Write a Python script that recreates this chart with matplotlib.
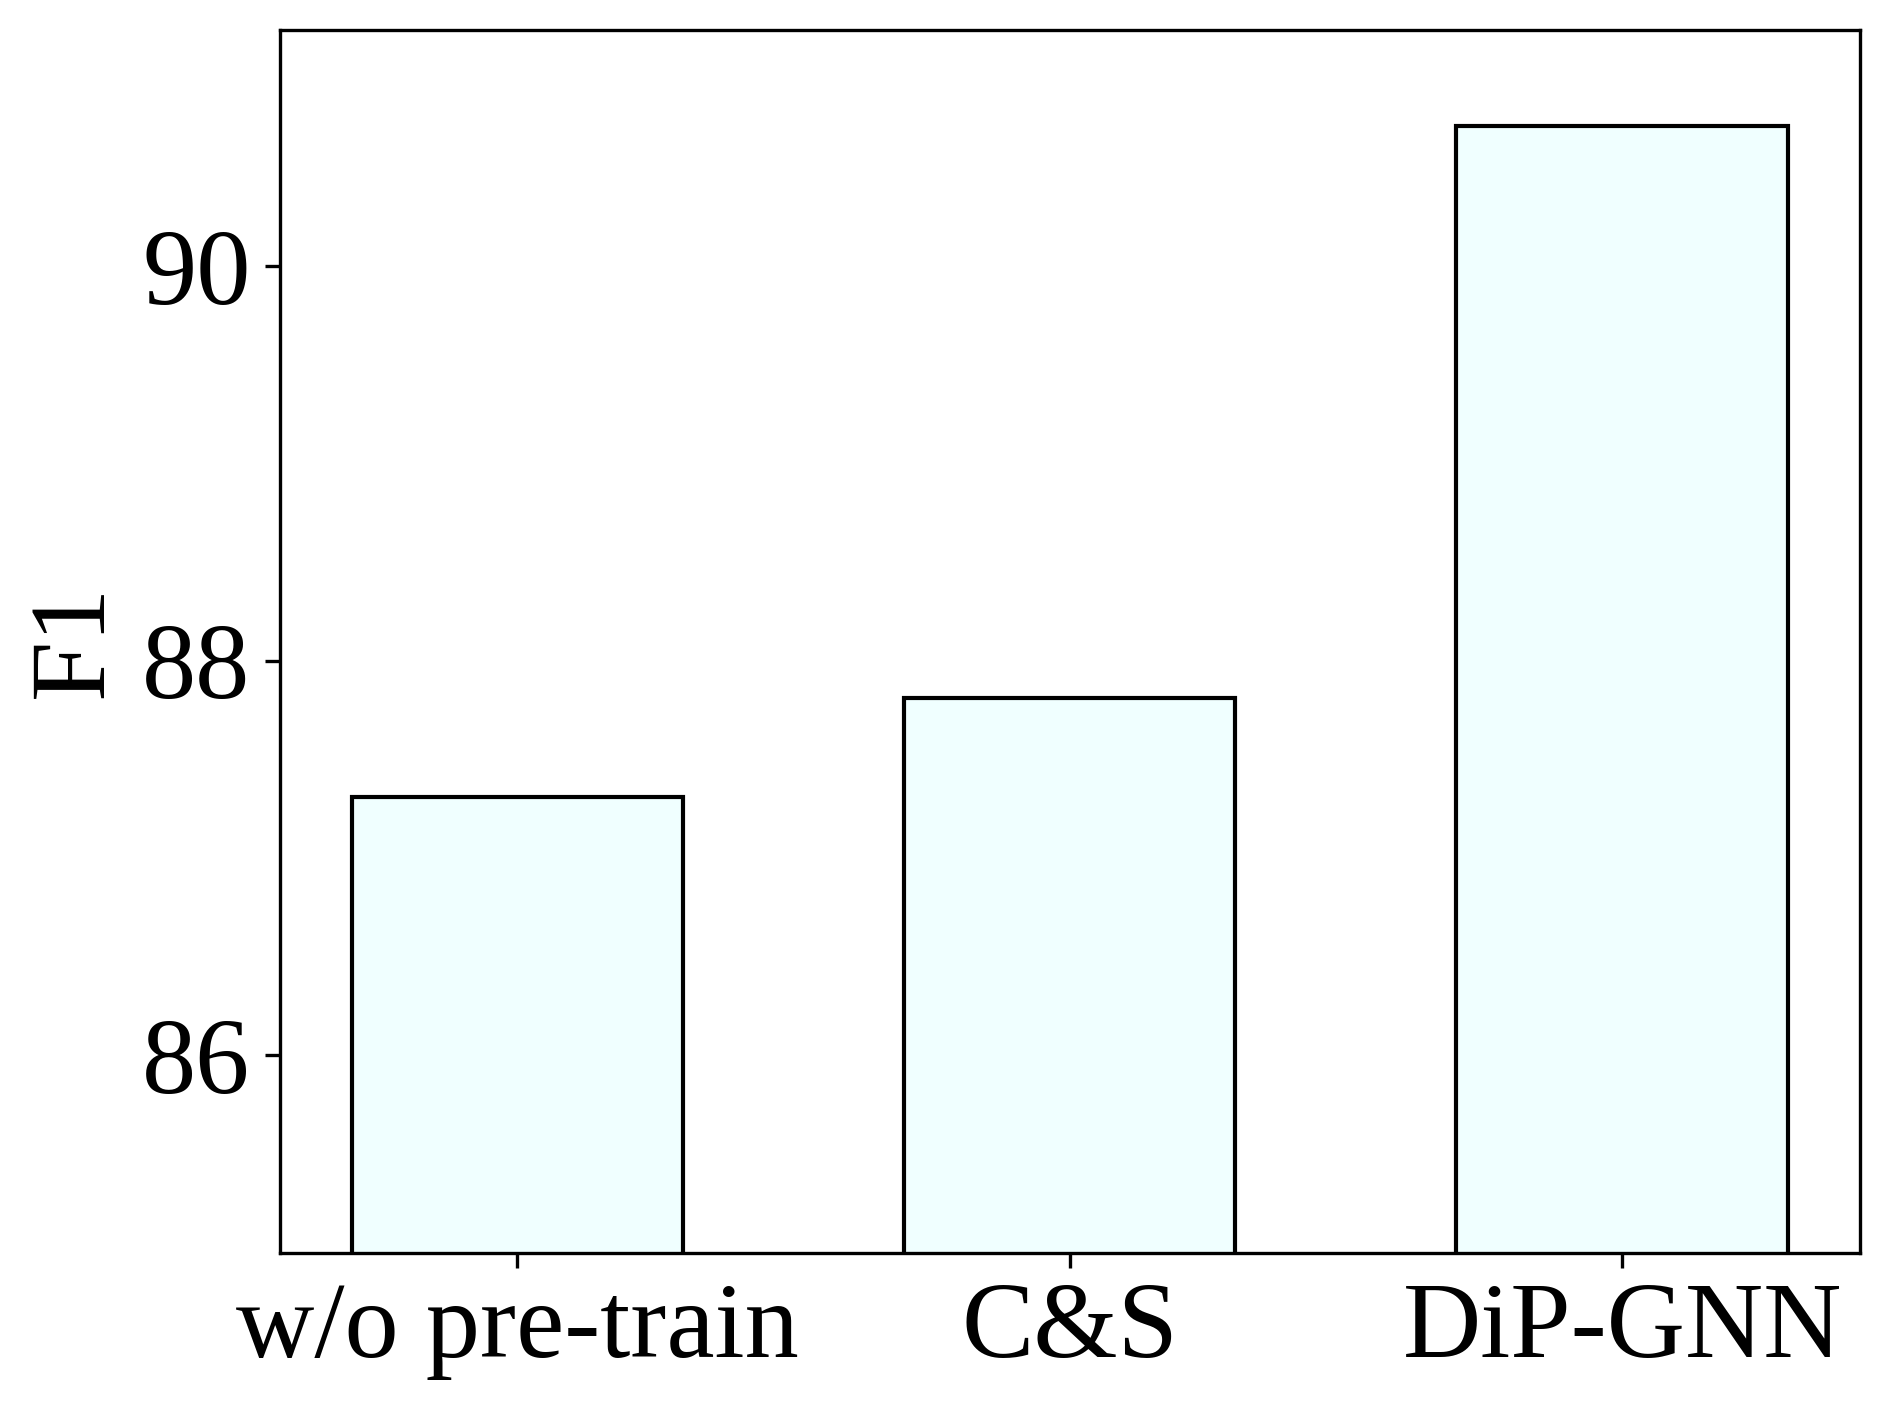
import matplotlib
matplotlib.use("Agg")
import matplotlib.pyplot as plt

categories = ["w/o pre-train", "C&S", "DiP-GNN"]
values = [87.31, 87.81, 90.71]
yticks = [86, 88, 90]

plt.rcParams['font.family'] = ['Liberation Serif', 'DejaVu Serif']
plt.rcParams['mathtext.fontset'] = 'stix'

fig = plt.figure(figsize=(6.3, 1409/300), dpi=300)
ax = fig.add_axes([0.148, 0.111, 0.836, 0.868])
x = list(range(len(categories)))
ax.bar(x, values, width=0.6, color='azure', edgecolor='black', linewidth=1.0)
ax.set_ylim(85.0, 91.2)
ax.set_yticks(yticks)
ax.set_xticks(x)
ax.set_xticklabels(categories)
ax.tick_params(labelsize=26)
ax.set_ylabel("F1", fontsize=26)
fig.savefig("out.png", dpi=300)
